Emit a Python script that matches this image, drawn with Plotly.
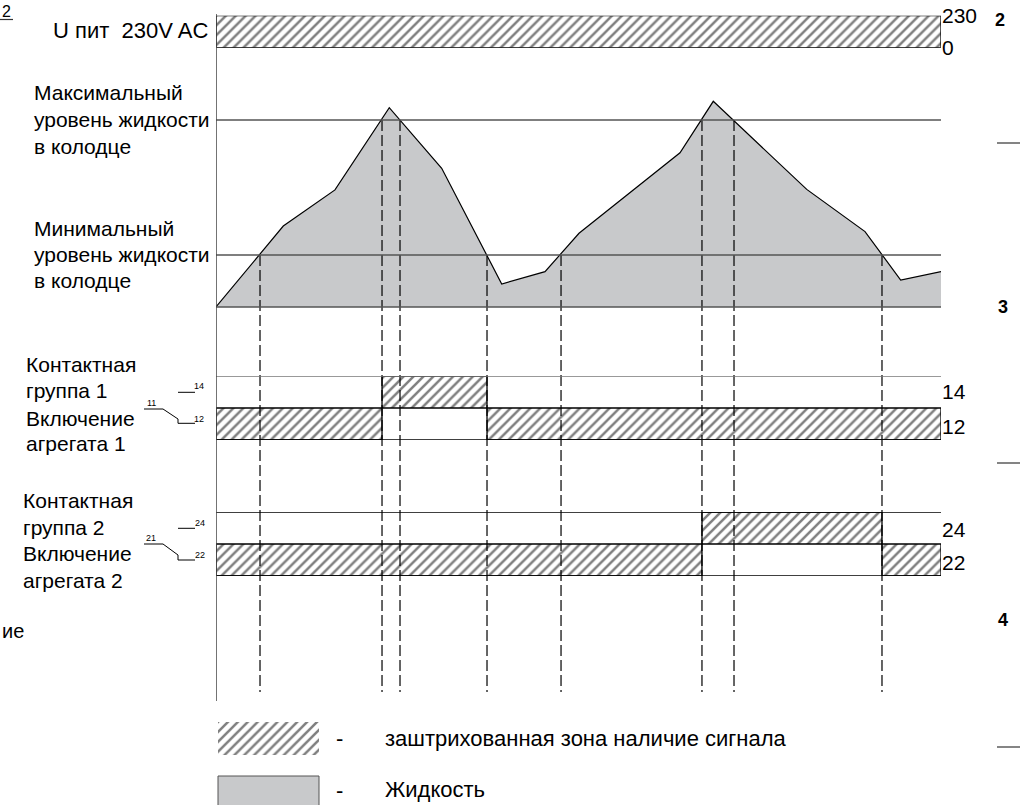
import plotly.graph_objects as go

W, H = 1020, 805
FONT = "Liberation Sans, Arial, sans-serif"

# ---------------- data ----------------
# time axis (arbitrary units, 0..100)
T_START, T_END = 0, 100
# liquid level in the well (arbitrary units)
time_level = [0, 9.28, 16.41, 23.90, 31.13, 39.41, 45.38, 50.07, 64.0, 68.59, 81.48, 89.52, 94.44, 100]
level = [0, 43.3, 62.6, 106.6, 74.2, 12.3, 18.9, 39.4, 82.5, 110.0, 62.9, 40.3, 14.4, 18.9]
LEVEL_MIN = 27.8
LEVEL_MAX = 100.0
# switching events (level crossings)
event_t = [6.07, 22.9, 25.38, 37.38, 47.59, 67.03, 71.45, 91.86]
event_level = [LEVEL_MIN, LEVEL_MAX, LEVEL_MAX, LEVEL_MIN, LEVEL_MIN, LEVEL_MAX, LEVEL_MAX, LEVEL_MIN]
# supply voltage
supply_t = [0, 100]
supply_v = 230
# contact group 1 (14 = NO, 12 = NC) signal intervals
k1_14_start, k1_14_end = [22.9], [37.38]
k1_12_start, k1_12_end = [0, 37.38], [22.9, 100]
# contact group 2 (24 = NO, 22 = NC)
k2_24_start, k2_24_end = [67.03], [91.86]
k2_22_start, k2_22_end = [0, 91.86], [67.03, 100]

# ---------------- layout helpers ----------------
def px(x):
    return x / W

def py(y):
    return 1 - y / H

LEVEL_TOP = 120.0
LEVEL_BOTTOM = -205.9  # extension of dashed event lines below the chart
FILL_GRAY = "rgb(200,201,203)"
LINE_GRAY = "#555555"
HATCH = dict(shape="/", fgcolor="black", bgcolor="white", size=7, solidity=0.36)

fig = go.Figure()

# supply voltage bar
xs = [supply_t[0], supply_t[0], supply_t[1], supply_t[1], supply_t[0]]
ys = [0, supply_v, supply_v, 0, 0]
fig.add_trace(go.Scatter(x=xs, y=ys, mode="lines", fill="toself", fillcolor="white",
                         fillpattern=HATCH, line=dict(color="black", width=1.3),
                         xaxis="x", yaxis="y", hoverinfo="skip", showlegend=False))

def add_bars(starts, ends, row, yaxis):
    fig.add_trace(go.Bar(orientation="h", y=[row] * len(starts), base=starts,
                         x=[e - s for s, e in zip(starts, ends)], width=1,
                         marker=dict(color="white", line=dict(color="black", width=1.3),
                                     pattern=HATCH),
                         xaxis="x", yaxis=yaxis, hoverinfo="skip", showlegend=False))

add_bars(k1_14_start, k1_14_end, 1.5, "y2")
add_bars(k1_12_start, k1_12_end, 0.5, "y2")
add_bars(k2_24_start, k2_24_end, 1.5, "y3")
add_bars(k2_22_start, k2_22_end, 0.5, "y3")

# legend hatch swatch
fig.add_trace(go.Bar(orientation="h", y=[0.5], base=[0], x=[1], width=1,
                     marker=dict(color="white", line=dict(width=0), pattern=HATCH),
                     xaxis="x2", yaxis="y4", hoverinfo="skip", showlegend=False))

# liquid level
fig.add_trace(go.Scatter(x=time_level, y=level, mode="lines", fill="tozeroy",
                         fillcolor=FILL_GRAY, line=dict(color="black", width=1.2),
                         xaxis="x", yaxis="y5", hoverinfo="skip", showlegend=False))

# dashed event lines
dx, dy = [], []
for t, lv in zip(event_t, event_level):
    dx += [t, t, None]
    dy += [lv, LEVEL_BOTTOM, None]
fig.add_trace(go.Scatter(x=dx, y=dy, mode="lines",
                         line=dict(color="black", width=1.2, dash="11px,4px"),
                         xaxis="x", yaxis="y5", hoverinfo="skip", showlegend=False))

shapes = []
# level reference lines
for lv in [0, LEVEL_MIN, LEVEL_MAX]:
    shapes.append(dict(type="line", xref="x", yref="y5", x0=T_START, x1=T_END, y0=lv, y1=lv,
                       line=dict(color=LINE_GRAY, width=1.5)))
# contact row border lines
shapes.append(dict(type="line", xref="x", yref="y2", x0=T_START, x1=T_END, y0=2, y1=2,
                   line=dict(color="#777777", width=1.5)))
shapes.append(dict(type="line", xref="x", yref="y2", x0=T_START, x1=T_END, y0=0, y1=0,
                   line=dict(color="black", width=1.3)))
shapes.append(dict(type="line", xref="x", yref="y3", x0=T_START, x1=T_END, y0=2, y1=2,
                   line=dict(color="black", width=1.3)))
shapes.append(dict(type="line", xref="x", yref="y3", x0=T_START, x1=T_END, y0=0, y1=0,
                   line=dict(color="black", width=1.3)))
# vertical time axis line
shapes.append(dict(type="line", xref="x", yref="paper", x0=T_START, x1=T_START,
                   y0=py(701), y1=py(14), line=dict(color="#444444", width=1.5)))

def seg(x0, y0, x1, y1, w=1, c="black"):
    shapes.append(dict(type="line", xref="paper", yref="paper", x0=px(x0), y0=py(y0),
                       x1=px(x1), y1=py(y1), line=dict(color=c, width=w)))

# contact symbols
seg(178, 392.3, 195, 392.3)
seg(144, 409, 163, 409)
seg(163, 409, 178, 419)
seg(178, 419, 178, 423.3)
seg(178, 423.3, 195, 423.3)
seg(178, 528.3, 195, 528.3)
seg(144, 544, 163, 544)
seg(163, 544, 178, 555)
seg(178, 555, 178, 560)
seg(178, 560, 195, 560)
# page marks on the right and top-left underline
seg(997, 143, 1020, 143, 1.2, "#333333")
seg(997, 463, 1020, 463, 1.2, "#333333")
seg(997, 747, 1020, 747, 1.2, "#333333")
seg(0, 19.5, 13, 19.5, 1.2, "#333333")
# legend liquid swatch
shapes.append(dict(type="rect", xref="paper", yref="paper", x0=px(218), x1=px(319),
                   y0=py(810), y1=py(776), fillcolor=FILL_GRAY,
                   line=dict(color="#555555", width=1)))

annotations = []

def txt(s, x, y, size=21, xanchor="left", yanchor="middle", bold=False, family=FONT):
    if bold:
        s = "<b>" + s + "</b>"
    annotations.append(dict(text=s, xref="paper", yref="paper", x=px(x), y=py(y),
                            xanchor=xanchor, yanchor=yanchor, showarrow=False, align="left",
                            font=dict(family=family, size=size, color="black")))

def block(lines, x, ys, size=21):
    for s, y in zip(lines, ys):
        txt(s, x, y, size=size)

txt("U пит  230V AC", 210, 30.5, size=22, xanchor="right")
block(["Максимальный", "уровень жидкости", "в колодце"], 32, [92, 119, 146])
block(["Минимальный", "уровень жидкости", "в колодце"], 32, [228, 254, 280])
block(["Контактная", "группа 1", "Включение", "агрегата 1"], 24, [364.5, 390.7, 418, 443.7])
block(["Контактная", "группа 2", "Включение", "агрегата 2"], 21, [500.3, 527.3, 553.7, 580.3])
txt("ие", 0, 631, size=20)
txt("2", 0, 0.5, size=16, yanchor="top")
txt("14", 198.5, 386, size=9, xanchor="center")
txt("11", 151, 402.5, size=9, xanchor="center")
txt("12", 199, 419, size=9, xanchor="center")
txt("24", 199.5, 522.5, size=9, xanchor="center")
txt("21", 151, 538, size=9, xanchor="center")
txt("22", 199.5, 555, size=9, xanchor="center")
txt("2", 1000, 20, size=18, xanchor="center", bold=True)
txt("3", 1002.5, 307, size=18, xanchor="center", bold=True)
txt("4", 1002.5, 620, size=18, xanchor="center", bold=True)
txt("-", 339.5, 738, size=22, xanchor="center")
txt("заштрихованная зона наличие сигнала", 383, 738, size=22)
txt("-", 339.5, 790, size=22, xanchor="center")
txt("Жидкость", 383, 789.5, size=22)

hidden = dict(visible=False, showgrid=False, zeroline=False, fixedrange=True)
right_axis = dict(side="right", showgrid=False, zeroline=False, showline=False, ticks="",
                  tickfont=dict(family=FONT, size=21, color="black"), fixedrange=True)

fig.update_layout(
    width=W, height=H, margin=dict(l=0, r=0, t=0, b=0, pad=0, autoexpand=False),
    paper_bgcolor="white", plot_bgcolor="rgba(0,0,0,0)",
    barmode="overlay", showlegend=False, hovermode=False,
    xaxis=dict(domain=[px(216), px(941)], range=[T_START, T_END], anchor="y", **hidden),
    xaxis2=dict(domain=[px(218), px(319)], range=[0, 1], anchor="y4", **hidden),
    yaxis=dict(domain=[py(47.7), py(15.7)], range=[0, supply_v], anchor="x",
               tickvals=[0, supply_v], ticktext=["0", str(supply_v)], **right_axis),
    yaxis2=dict(domain=[py(440), py(376)], range=[0, 2], anchor="x",
                tickvals=[0.42, 1.5], ticktext=["12", "14"], **right_axis),
    yaxis3=dict(domain=[py(576), py(512)], range=[0, 2], anchor="x",
                tickvals=[0.43, 1.44], ticktext=["22", "24"], **right_axis),
    yaxis4=dict(domain=[py(755), py(722)], range=[0, 1], anchor="x2", **hidden),
    yaxis5=dict(domain=[py(692), py(82.6)], range=[LEVEL_BOTTOM, LEVEL_TOP], anchor="x", **hidden),
    shapes=shapes, annotations=annotations,
    font=dict(family=FONT, color="black"),
)

fig.write_html("out.html", config={"displayModeBar": False, "staticPlot": True},
               post_script="document.body.style.margin='0';")
